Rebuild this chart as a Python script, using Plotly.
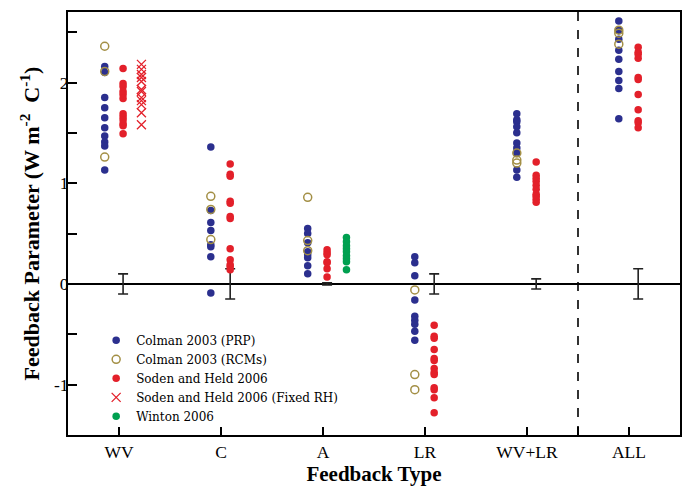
import plotly.graph_objects as go

# ---------------- data ----------------
categories = ["WV", "C", "A", "LR", "WV+LR", "ALL"]
cat_pos = [1, 2, 3, 4, 5, 6]

colman_prp = {
    "WV": [2.16, 2.10, 1.85, 1.75, 1.65, 1.55, 1.47, 1.41, 1.37, 1.13],
    "C": [1.36, 0.73, 0.61, 0.53, 0.39, 0.37, 0.27, -0.09],
    "A": [0.55, 0.50, 0.41, 0.32, 0.29, 0.26, 0.18, 0.10],
    "LR": [0.27, 0.21, 0.08, -0.16, -0.32, -0.36, -0.40, -0.47, -0.56],
    "WV+LR": [1.69, 1.63, 1.61, 1.56, 1.50, 1.40, 1.35, 1.30, 1.13, 1.06],
    "ALL": [2.61, 2.52, 2.43, 2.32, 2.23, 2.11, 2.02, 1.94, 1.64],
}
colman_rcm = {
    "WV": [2.36, 2.11, 1.26],
    "C": [0.87, 0.74, 0.44],
    "A": [0.86, 0.43, 0.33],
    "LR": [-0.06, -0.90, -1.05],
    "WV+LR": [1.30, 1.23, 1.20],
    "ALL": [2.52, 2.49, 2.38],
}
soden_held = {
    "WV": [2.14, 1.99, 1.96, 1.91, 1.88, 1.84, 1.69, 1.66, 1.63, 1.59, 1.57, 1.49],
    "C": [1.19, 1.09, 1.07, 0.82, 0.80, 0.67, 0.65, 0.35, 0.24, 0.19, 0.17, 0.14],
    "A": [0.34, 0.31, 0.29, 0.22, 0.21, 0.15, 0.07],
    "LR": [-0.41, -0.52, -0.54, -0.65, -0.74, -0.76, -0.84, -0.88, -0.90, -1.03, -1.05, -1.13, -1.28],
    "WV+LR": [1.21, 1.08, 1.05, 1.02, 0.98, 0.94, 0.89, 0.87, 0.84, 0.81],
    "ALL": [2.35, 2.30, 2.28, 2.24, 2.05, 2.03, 1.88, 1.73, 1.62, 1.60, 1.55],
}
soden_held_fixed_rh = {
    "WV": [2.18, 2.13, 2.08, 2.05, 2.01, 1.93, 1.91, 1.85, 1.82, 1.78, 1.70, 1.58],
}
winton = {
    "A": [0.46, 0.42, 0.38, 0.35, 0.32, 0.28, 0.25, 0.22, 0.14],
}
spread = [0.10, 0.15, 0.01, 0.10, 0.05, 0.15]
y_tick_vals = [-1, 0, 1, 2]
y_tick_text = ["-1", "0", "1", "2"]

# ---------------- style ----------------
offsets = {
    "colman": {"WV": -0.14, "C": -0.10, "A": -0.15, "LR": -0.10, "WV+LR": -0.10, "ALL": -0.10},
    "soden": {"WV": 0.04, "C": 0.09, "A": 0.04, "LR": 0.09, "WV+LR": 0.09, "ALL": 0.09},
    "third": {"WV": 0.22, "A": 0.23},
}
BLUE = "#2B2F8E"
OLIVE = "#A38F45"
RED = "#E3202A"
GREEN = "#00A050"
FONT = "Liberation Serif"


def xy(series, key):
    xs, ys = [], []
    for cat, pos in zip(categories, cat_pos):
        if cat in series:
            for v in series[cat]:
                xs.append(pos + offsets[key][cat])
                ys.append(v)
    return xs, ys


fig = go.Figure()

# error bars (spread about zero)
fig.add_trace(go.Scatter(
    x=[p + offsets["soden"][c] for c, p in zip(categories, cat_pos)],
    y=[0] * len(categories),
    mode="markers",
    marker=dict(size=1, color="rgba(0,0,0,0)"),
    error_y=dict(type="data", array=spread, visible=True, color="#222222", thickness=1.6, width=5),
    showlegend=False, hoverinfo="skip",
))

x, y = xy(colman_prp, "colman")
fig.add_trace(go.Scatter(x=x, y=y, mode="markers", name="Colman 2003 (PRP)",
                         marker=dict(symbol="circle", size=7.5, color=BLUE)))
x, y = xy(colman_rcm, "colman")
fig.add_trace(go.Scatter(x=x, y=y, mode="markers", name="Colman 2003 (RCMs)",
                         marker=dict(symbol="circle-open", size=8, color=OLIVE, line=dict(width=1.5, color=OLIVE))))
x, y = xy(soden_held, "soden")
fig.add_trace(go.Scatter(x=x, y=y, mode="markers", name="Soden and Held 2006",
                         marker=dict(symbol="circle", size=7.5, color=RED)))
x, y = xy(soden_held_fixed_rh, "third")
fig.add_trace(go.Scatter(x=x, y=y, mode="markers", name="Soden and Held 2006 (Fixed RH)",
                         marker=dict(symbol="x-thin", size=9, color=RED, line=dict(width=1.3, color=RED))))
x, y = xy(winton, "third")
fig.add_trace(go.Scatter(x=x, y=y, mode="markers", name="Winton 2006",
                         marker=dict(symbol="circle", size=7.5, color=GREEN)))

fig.add_shape(type="line", xref="x", yref="paper", x0=5.5, x1=5.5, y0=0, y1=1,
              line=dict(color="black", width=1.6, dash="dash"))

fig.update_layout(
    width=687, height=490,
    margin=dict(l=68, r=7, t=12, b=55),
    paper_bgcolor="white", plot_bgcolor="white",
    font=dict(family=FONT, color="black", size=16),
    showlegend=True,
    legend=dict(x=0.046, y=0.258, xanchor="left", yanchor="top",
                bgcolor="rgba(0,0,0,0)", font=dict(family="DejaVu Serif", size=12),
                itemwidth=30, tracegroupgap=0),
    xaxis=dict(
        range=[0.5, 6.5],
        tickvals=cat_pos,
        ticktext=categories,
        ticks="inside", ticklen=8, tickwidth=1.5, tickcolor="black",
        minor=dict(tickvals=[5.5], ticks="inside", ticklen=8, tickwidth=1.5, tickcolor="black"),
        showline=True, linecolor="black", linewidth=2, mirror=True,
        showgrid=False, zeroline=False, automargin=False,
        tickfont=dict(size=17.5),
        title=dict(text="<b>Feedback Type</b>", font=dict(size=21), standoff=2),
    ),
    yaxis=dict(
        range=[-1.5, 2.7],
        tickvals=y_tick_vals,
        ticktext=y_tick_text,
        ticks="inside", ticklen=9, tickwidth=1.5, tickcolor="black",
        ticklabelstandoff=-6,
        minor=dict(dtick=0.5, tick0=0, ticks="inside", ticklen=9, tickwidth=1.5, tickcolor="black", showgrid=False),
        showline=True, linecolor="black", linewidth=2, mirror=True,
        showgrid=False, automargin=False,
        zeroline=True, zerolinecolor="black", zerolinewidth=2,
        tickfont=dict(size=17.5),
        title=dict(text="<b>Feedback Parameter (W m<sup>-2</sup>  C<sup>-1</sup>)</b>", font=dict(size=22), standoff=8),
    ),
)

fig.write_html("out.html", config={"displayModeBar": False},
               post_script="document.body.style.margin='0';")
